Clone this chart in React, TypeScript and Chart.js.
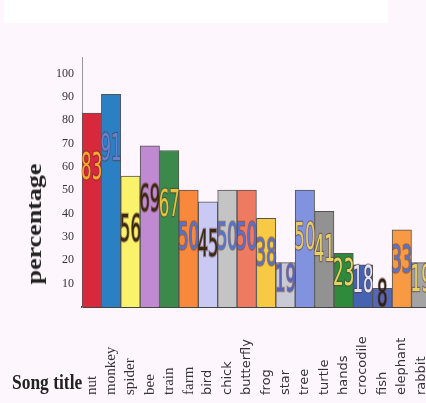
import React, { useEffect, useRef } from "react";
import { Chart, registerables } from "chart.js";

Chart.register(...registerables);

const categories = [
  "nut", "monkey", "spider", "bee", "train", "farm", "bird", "chick", "butterfly",
  "frog", "star", "tree", "turtle", "hands", "crocodile", "fish", "elephant", "rabbit",
];
const percentages = [83, 91, 56, 69, 67, 50, 45, 50, 50, 38, 19, 50, 41, 23, 18, 8, 33, 19];
const yTicks = [10, 20, 30, 40, 50, 60, 70, 80, 90, 100];

const barColors = [
  "#d8283c", "#2a80c2", "#fbf26c", "#c08ad2", "#3b8a4c", "#f7883c", "#c9c9f3", "#c4c4c4", "#ef7a62",
  "#f7c945", "#c9cad6", "#8193df", "#929292", "#2f8a3c", "#4563b2", "#5567b8", "#f79a43", "#a3a3a3",
];
const labelColors = [
  "#f6a82a", "#6a7ed2", "#3a2a12", "#3a2a12", "#e6c23e", "#5472d2", "#3a2a12", "#5472d2", "#5472d2",
  "#5a70c8", "#5a62c0", "#e8cb62", "#e8d266", "#e8d266", "#e6e6f2", "#2e2212", "#5472d2", "#e8d266",
];

export default function App() {
  const ref = useRef<HTMLCanvasElement | null>(null);

  useEffect(() => {
    document.body.style.margin = "0";
    const canvas = ref.current;
    if (!canvas) return;

    const barLabels = {
      id: "barLabels",
      afterDatasetsDraw(chart: any) {
        const ctx = chart.ctx;
        const meta = chart.getDatasetMeta(0);
        meta.data.forEach((bar: any, i: number) => {
          const { x, y, base } = bar.getProps(["x", "y", "base"], true);
          const h = base - y;
          const cy = y + Math.min(h * 0.42, 56);
          ctx.save();
          ctx.translate(x, cy);
          ctx.scale(0.5, 1);
          ctx.font = '37px "Liberation Sans Narrow", "DejaVu Sans Condensed", "Liberation Sans", sans-serif';
          ctx.textAlign = "center";
          ctx.textBaseline = "middle";
          ctx.lineWidth = 2.5;
          ctx.strokeStyle = "rgba(90,50,40,0.5)";
          ctx.strokeText(String(percentages[i]), 0, 0);
          ctx.fillStyle = labelColors[i];
          ctx.fillText(String(percentages[i]), 0, 0);
          ctx.restore();
        });
      },
    };

    const bottomAlignLabels = {
      id: "bottomAlignLabels",
      beforeDraw(chart: any) {
        const sx = chart.scales.x;
        if (!sx || !sx.getLabelItems) return;
        const items = sx.getLabelItems(chart.chartArea);
        items.forEach((it: any) => {
          if (it._fixed) return;
          it.options.textAlign = "left";
          it.options.translation = [it.options.translation[0], 395];
          it._fixed = true;
        });
      },
    };

    const chart = new Chart(canvas, {
      type: "bar",
      data: {
        labels: categories,
        datasets: [
          {
            data: percentages,
            backgroundColor: barColors,
            borderColor: "#555555",
            borderWidth: 1,
            barPercentage: 1,
            categoryPercentage: 1,
          },
        ],
      },
      options: {
        animation: false,
        responsive: false,
        devicePixelRatio: 1,
        layout: { padding: { top: 57, right: 8, left: 0, bottom: 0 } },
        plugins: { legend: { display: false }, tooltip: { enabled: false } },
        scales: {
          x: {
            grid: { display: false, drawTicks: false },
            border: { display: true, color: "#444444", width: 2 },
            ticks: {
              autoSkip: false,
              minRotation: 90,
              maxRotation: 90,
              color: "#333333",
              font: (c: any) =>
                c.index < 6
                  ? { family: '"Liberation Serif", "DejaVu Serif", serif', size: 15 }
                  : { family: '"DejaVu Sans", "Liberation Sans", sans-serif', size: 13 },
            },
            afterFit: (s: any) => {
              s.height = 96;
            },
          },
          y: {
            min: 0,
            max: 107,
            grid: { display: false, drawTicks: false },
            border: { display: true, color: "#999999", width: 1 },
            afterBuildTicks: (s: any) => {
              s.ticks = yTicks.map((v) => ({ value: v }));
            },
            ticks: {
              padding: 8,
              color: "#333333",
              font: { family: '"Liberation Serif", "DejaVu Serif", serif', size: 12 },
            },
            afterFit: (s: any) => {
              s.width = 82;
            },
          },
        },
      },
      plugins: [barLabels, bottomAlignLabels],
    });

    return () => chart.destroy();
  }, []);

  return (
    <div
      style={{
        position: "fixed",
        left: 0,
        top: 0,
        width: 426,
        height: 403,
        overflow: "hidden",
        background: "#fdf6fd",
      }}
    >
      <div style={{ position: "absolute", left: 4, top: 0, width: 384, height: 23, background: "#ffffff" }} />
      <canvas
        ref={ref}
        width={440}
        height={403}
        style={{ position: "absolute", left: 0, top: 0, width: 440, height: 403 }}
      />
      <div
        style={{
          position: "absolute",
          left: 34,
          top: 224,
          transform: "translate(-50%, -50%) rotate(-90deg) scaleX(1.3)",
          font: 'bold 20px "Liberation Serif", "DejaVu Serif", serif',
          lineHeight: 1,
          whiteSpace: "nowrap",
          color: "#222222",
        }}
      >
        percentage
      </div>
      <div
        style={{
          position: "absolute",
          left: 12,
          top: 372,
          transformOrigin: "left top",
          transform: "scaleX(0.83)",
          font: 'bold 21px "Liberation Serif", "DejaVu Serif", serif',
          lineHeight: 1,
          whiteSpace: "nowrap",
          color: "#222222",
        }}
      >
        Song title
      </div>
    </div>
  );
}
